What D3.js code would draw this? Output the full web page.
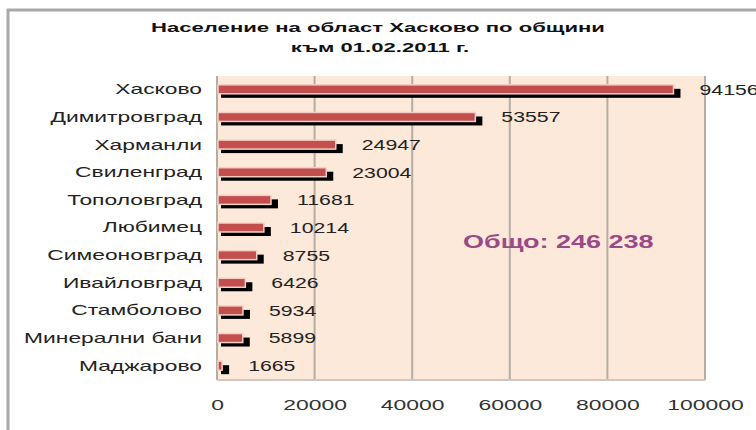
<!DOCTYPE html>
<html>
<head>
<meta charset="utf-8">
<script src="https://cdn.jsdelivr.net/npm/d3@7"></script>
<style>
  body { margin: 0; background: #fff; }
  text { font-family: "Liberation Sans", Arial, sans-serif; }
</style>
</head>
<body>
<div id="chart"></div>
<script>
// data
var municipalities = ["Хасково", "Димитровград", "Харманли", "Свиленград", "Тополовград",
  "Любимец", "Симеоновград", "Ивайловград", "Стамболово", "Минерални бани", "Маджарово"];
var population = [94156, 53557, 24947, 23004, 11681, 10214, 8755, 6426, 5934, 5899, 1665];
var xTicks = [0, 20000, 40000, 60000, 80000, 100000];
var titleLines = ["Население на област Хасково по общини", "към 01.02.2011 г."];
var totalLabel = "Общо: 246 238";

var W = 756, H = 430;
var margin = {top: 76, right: 51, bottom: 50, left: 217},
    width = W - margin.left - margin.right,
    height = H - margin.top - margin.bottom;

// the original picture is stretched sideways, so text is too
var stretch = 1.52,
    catStretch = 1.63;

var x = d3.scaleLinear().domain([0, 100000]).range([0, width]);
var y = d3.scaleBand().domain(municipalities).range([0, height]);

var svg = d3.select("#chart").append("svg")
    .attr("width", W)
    .attr("height", H);

// outer frame
svg.append("rect")
    .attr("x", 8).attr("y", 10)
    .attr("width", W + 20).attr("height", H + 20)
    .attr("fill", "none")
    .attr("stroke", "#a8a8a8")
    .attr("stroke-width", 3);

// title
svg.selectAll(".title")
    .data(titleLines)
    .enter().append("text")
    .attr("class", "title")
    .attr("transform", function(d, i) {
        return "translate(" + (i == 0 ? 378 : 380) + "," + (i == 0 ? 32 : 52) + ") scale(1.7,1)";
    })
    .attr("text-anchor", "middle")
    .attr("font-size", 13).attr("font-weight", "bold").attr("fill", "#111")
    .text(function(d) { return d; });

var g = svg.append("g")
    .attr("transform", "translate(" + margin.left + "," + margin.top + ")");

// plot background
g.append("rect")
    .attr("width", width).attr("height", height)
    .attr("fill", "#fce9da");

// vertical gridlines
g.selectAll(".grid")
    .data(xTicks)
    .enter().append("line")
    .attr("x1", function(d) { return x(d); })
    .attr("x2", function(d) { return x(d); })
    .attr("y1", 0).attr("y2", height)
    .attr("stroke", "#b5aca4")
    .attr("stroke-width", 2);

// bottom edge
g.append("line")
    .attr("x1", 0).attr("x2", width)
    .attr("y1", height).attr("y2", height)
    .attr("stroke", "#cfc8c2").attr("stroke-width", 2);

// shadow bars
g.selectAll(".shadow")
    .data(population)
    .enter().append("rect")
    .attr("class", "shadow")
    .attr("x", 4)
    .attr("y", function(d, i) { return y(municipalities[i]) + y.bandwidth() / 2 - 1; })
    .attr("width", function(d) { return Math.max(x(d) - 0, 4); })
    .attr("height", 9)
    .attr("fill", "#000");

// red bars
g.selectAll(".bar")
    .data(population)
    .enter().append("rect")
    .attr("class", "bar")
    .attr("x", 1)
    .attr("y", function(d, i) { return y(municipalities[i]) + y.bandwidth() / 2 - 5; })
    .attr("width", function(d) { return Math.max(x(d) - 4, 2); })
    .attr("height", 9)
    .attr("fill", "#c24f4d")
    .attr("stroke", "#f6cfc4")
    .attr("stroke-width", 1.5);

// value labels
g.selectAll(".value")
    .data(population)
    .enter().append("text")
    .attr("transform", function(d, i) {
        return "translate(" + (x(d) + 23) + "," + (y(municipalities[i]) + y.bandwidth() / 2) + ") scale(" + stretch + ",1)";
    })
    .attr("dy", "0.35em")
    .attr("font-size", 14)
    .attr("fill", "#222")
    .text(function(d) { return d; });

// category axis
var yAxis = g.append("g")
    .call(d3.axisLeft(y).tickSize(0).tickPadding(15));
yAxis.select(".domain").remove();
yAxis.selectAll("text")
    .attr("x", -15 / catStretch)
    .attr("transform", "scale(" + catStretch + ",1)")
    .attr("font-size", 14)
    .attr("fill", "#222")
    .style("font-family", "'Liberation Sans', Arial, sans-serif");

// value axis
var xAxis = g.append("g")
    .attr("transform", "translate(0," + height + ")")
    .call(d3.axisBottom(x).tickValues(xTicks).tickFormat(d3.format("d")).tickSize(0).tickPadding(20));
xAxis.select(".domain").remove();
xAxis.selectAll("text")
    .attr("transform", "scale(1.58,1)")
    .attr("font-size", 14.5)
    .attr("fill", "#333")
    .style("font-family", "'Liberation Sans', Arial, sans-serif");

// total annotation
svg.append("text")
    .attr("transform", "translate(463,248) scale(1.5,1)")
    .attr("font-size", 18).attr("font-weight", "bold")
    .attr("fill", "#9a4a86")
    .text(totalLabel);
</script>
</body>
</html>
